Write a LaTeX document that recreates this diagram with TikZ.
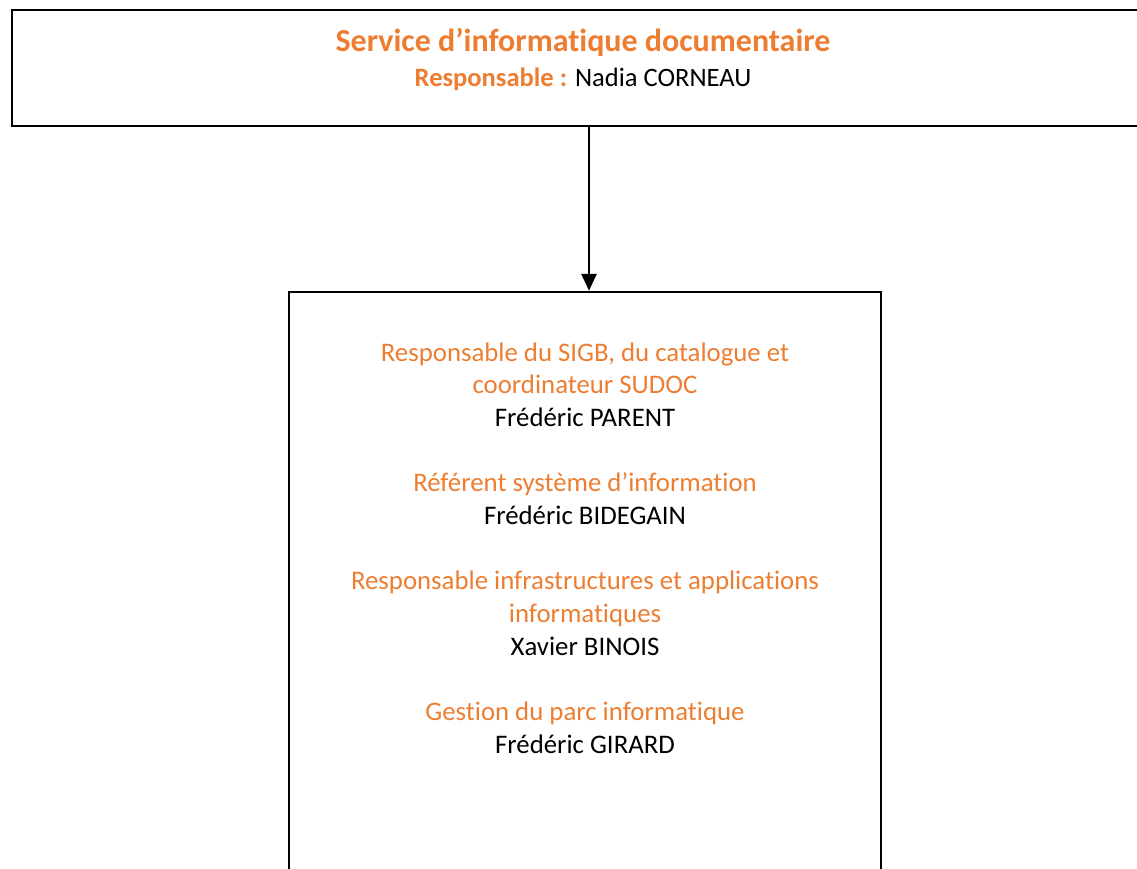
\documentclass[tikz,border=0pt]{standalone}
\usepackage{fontspec}
\setmainfont{Carlito}[Ligatures=NoCommon]
\usetikzlibrary{arrows.meta}
\definecolor{accent}{HTML}{ED7D31}
\tikzset{
  boxframe/.style={draw=black, line width=2.1pt, fill=none},
  txt/.style={anchor=base, inner sep=0pt, font=\fontsize{20.1}{24}\selectfont},
  orangetxt/.style={txt, text=accent},
  blacktxt/.style={txt, text=black},
  titletxt/.style={anchor=base, inner sep=0pt, text=accent, font=\fontsize{24}{28}\selectfont\bfseries},
  arrowline/.style={draw=black, line width=0.9pt, -{Triangle[length=12.5pt,width=11.5pt]}}
}
\begin{document}
\begin{tikzpicture}[x=0.75pt,y=-0.75pt]
\useasboundingbox (0,0) rectangle (1137,868);
% frames
\node[boxframe, minimum width=1142*0.75pt, minimum height=116*0.75pt, inner sep=0pt] (top) at (583,68) {};
\node[boxframe, minimum width=592*0.75pt, minimum height=620*0.75pt, inner sep=0pt] (box) at (585,602) {};
% header text
\node[titletxt] (title) at (583,51) {Service d’informatique documentaire};
\node[txt, font=\fontsize{19.9}{24}\selectfont] (resp) at (583,86.7) {\textcolor{accent}{\bfseries Responsable :} Nadia CORNEAU};
% body text
\node[orangetxt] (l1) at (585,361.0) {Responsable du SIGB, du catalogue et};
\node[orangetxt] (l2) at (585,393.7) {coordinateur SUDOC};
\node[blacktxt]  (l3) at (585,426.4) {Frédéric PARENT};
\node[orangetxt] (l4) at (585,491.8) {Référent système d’information};
\node[blacktxt]  (l5) at (585,524.5) {Frédéric BIDEGAIN};
\node[orangetxt] (l6) at (585,589.9) {Responsable infrastructures et applications};
\node[orangetxt] (l7) at (585,622.6) {informatiques};
\node[blacktxt]  (l8) at (585,655.3) {Xavier BINOIS};
\node[orangetxt] (l9) at (585,720.7) {Gestion du parc informatique};
\node[blacktxt]  (l10) at (585,753.4) {Frédéric GIRARD};
% connector
\coordinate (ax) at (589,0);
\draw[arrowline] (top.south -| ax) -- (box.north -| ax);
\end{tikzpicture}
\end{document}
